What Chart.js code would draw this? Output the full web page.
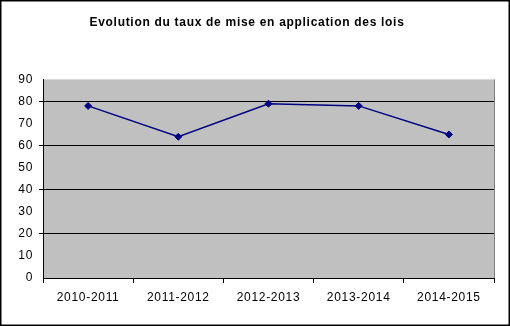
<!DOCTYPE html>
<html>
<head>
<meta charset="utf-8">
<script src="https://cdn.jsdelivr.net/npm/chart.js@4"></script>
<style>
  html, body { margin: 0; padding: 0; background: #ffffff; }
  #wrap { width: 510px; height: 326px; position: relative; }
</style>
</head>
<body>
<div id="wrap"><canvas id="chart" width="510" height="326"></canvas></div>
<script>
// Data
const categories = ["2010-2011", "2011-2012", "2012-2013", "2013-2014", "2014-2015"];
const tauxValues = [78, 64, 79, 78, 65];
const yTicks = [0, 10, 20, 30, 40, 50, 60, 70, 80, 90];
const gridValues = [20, 40, 60, 80];

const FONT = "Liberation Sans, Arial, sans-serif";

// Gray plot area + outer frame (+ wider text spacing like the original)
const frame = {
  id: "frame",
  beforeDraw(chart) {
    const { ctx, chartArea: a } = chart;
    ctx.letterSpacing = "0.7px";
    ctx.save();
    ctx.fillStyle = "#c0c0c0";
    ctx.fillRect(a.left, a.top, a.right - a.left, a.bottom - a.top);
    ctx.strokeStyle = "#808080";
    ctx.lineWidth = 1;
    ctx.beginPath();
    ctx.moveTo(a.right + 0.5, a.top);
    ctx.lineTo(a.right + 0.5, a.bottom);
    ctx.stroke();
    ctx.restore();
  },
  afterDraw(chart) {
    const { ctx, width, height } = chart;
    ctx.save();
    ctx.strokeStyle = "#000000";
    ctx.lineWidth = 1.5;
    ctx.strokeRect(0.75, 0.75, width - 1.5, height - 1.5);
    ctx.restore();
  },
};

const ctx = document.getElementById("chart").getContext("2d");
new Chart(ctx, {
  type: "line",
  data: {
    labels: categories,
    datasets: [
      {
        label: "Taux",
        data: tauxValues,
        borderColor: "#000080",
        backgroundColor: "#000080",
        borderWidth: 1.5,
        tension: 0,
        pointStyle: "rectRot",
        pointRadius: 3.5,
        pointBorderWidth: 1,
        pointBackgroundColor: "#000080",
        pointBorderColor: "#000080",
      },
    ],
  },
  options: {
    responsive: false,
    animation: false,
    layout: { padding: { left: 0, right: 16, top: 0, bottom: 0 } },
    plugins: {
      legend: { display: false },
      tooltip: { enabled: false },
      title: {
        display: true,
        text: "Evolution du taux de mise en application des lois",
        color: "#000000",
        font: { family: FONT, size: 12, weight: "bold" },
        padding: { top: 15, bottom: 50 },
      },
    },
    scales: {
      x: {
        offset: true,
        afterFit: (scale) => { scale.height = 48; },
        border: { display: true, color: "#000000", width: 1 },
        grid: {
          offset: true,
          drawOnChartArea: false,
          drawTicks: true,
          tickLength: 5,
          color: "#000000",
        },
        ticks: {
          color: "#000000",
          padding: 7,
          maxRotation: 0,
          font: { family: FONT, size: 12 },
        },
      },
      y: {
        min: 0,
        max: 90,
        afterFit: (scale) => { scale.width = 43; },
        afterBuildTicks: (scale) => {
          scale.ticks = yTicks.map((v) => ({ value: v }));
        },
        border: { display: true, color: "#000000", width: 1 },
        grid: {
          tickLength: 4,
          color: (c) => (gridValues.includes(c.tick && c.tick.value) ? "#000000" : "rgba(0,0,0,0)"),
          lineWidth: 1,
        },
        ticks: {
          color: "#000000",
          padding: 6,
          stepSize: 10,
          font: { family: FONT, size: 12 },
        },
      },
    },
  },
  plugins: [frame],
});
</script>
</body>
</html>
